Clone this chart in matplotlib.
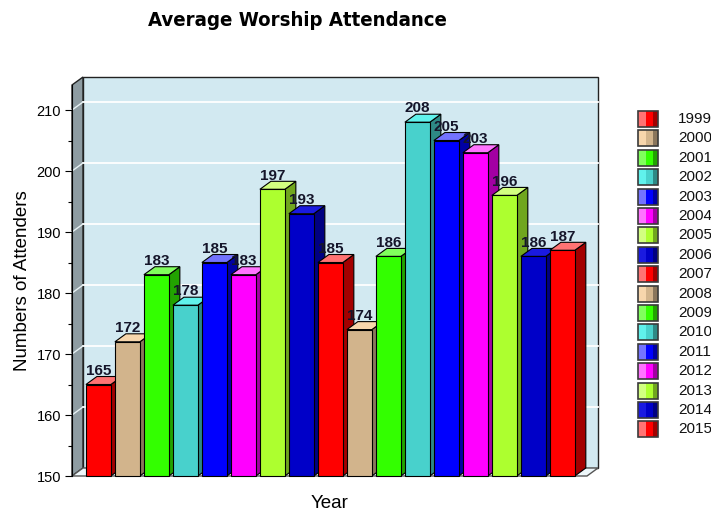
#!/usr/bin/env python3
"""Average worship attendance per year, drawn as a pseudo-3D bar chart."""
import matplotlib
matplotlib.use("Agg")
import matplotlib.pyplot as plt
from matplotlib.patches import Polygon, Rectangle

years = [str(y) for y in range(1999, 2016)]
attendance = [165, 172, 183, 178, 185, 183, 197, 193, 185, 174,
              186, 208, 205, 203, 196, 186, 187]

# (front, top, side) shades, cycling every 8 bars
PALETTE = [
    ("#FF0000", "#FF7373", "#A30000"),
    ("#D2B48C", "#F7D6AC", "#8A765C"),
    ("#33FF00", "#80FF5C", "#22A300"),
    ("#48D1CC", "#60F2EC", "#2E8985"),
    ("#0000FF", "#7373FF", "#0000A3"),
    ("#FF00FF", "#FF73FF", "#A300A3"),
    ("#ADFF2F", "#D2FF80", "#70A61E"),
    ("#0000C8", "#1A1AE0", "#000082"),
]

YMIN, YMAX = 150, 214.1
XMAX = 17.76
DX, DY = 0.379, 1.31      # depth offset in data units
BAR_W, BAR_OFF = 0.86, 0.48

FONT = ["Liberation Sans", "DejaVu Sans"]
plt.rcParams["font.family"] = FONT

fig = plt.figure(figsize=(7.11, 5.14), dpi=100)
ax = fig.add_axes([72 / 711, 38 / 514, 515 / 711, 391 / 514])
ax.set_xlim(0, XMAX)
ax.set_ylim(YMIN, YMAX)
ax.patch.set_visible(False)
for s in ("top", "right", "bottom"):
    ax.spines[s].set_visible(False)
ax.spines["left"].set_color("black")
ax.spines["left"].set_zorder(10)


def poly(pts, fc, ec="black", lw=0.8, z=2):
    ax.add_patch(Polygon(pts, closed=True, facecolor=fc, edgecolor=ec,
                         linewidth=lw, zorder=z, clip_on=False))


# walls and floor
poly([(DX, YMIN + DY), (XMAX + DX, YMIN + DY), (XMAX + DX, YMAX + DY),
      (DX, YMAX + DY)], "#D2E9F1", ec="#222222", lw=1.0, z=0)
poly([(0, YMIN), (DX, YMIN + DY), (DX, YMAX + DY), (0, YMAX)],
     "#8E9CA2", ec="#222222", lw=1.0, z=0)
poly([(0, YMIN), (XMAX, YMIN), (XMAX + DX, YMIN + DY), (DX, YMIN + DY)],
     "#EEF7FA", ec="#555555", lw=1.0, z=0)

for g in range(160, 211, 10):
    ax.plot([DX, XMAX + DX], [g + DY, g + DY], color="white", lw=1.3,
            zorder=1, clip_on=False)
    ax.plot([0, DX], [g, g + DY], color="#E8F2F5", lw=1.0, zorder=1,
            clip_on=False)

# bars
for i, v in enumerate(attendance):
    front, top, side = PALETTE[i % len(PALETTE)]
    x0 = BAR_OFF + i
    x1 = x0 + BAR_W
    z = 3 + i * 0.01
    poly([(x1, YMIN), (x1 + DX, YMIN + DY), (x1 + DX, v + DY), (x1, v)],
         side, z=z)
    poly([(x0, v), (x1, v), (x1 + DX, v + DY), (x0 + DX, v + DY)], top, z=z)
    ax.add_patch(Rectangle((x0, YMIN), BAR_W, v - YMIN, facecolor=front,
                           edgecolor="black", linewidth=0.8, zorder=z,
                           clip_on=False))
    ax.text(x0 + BAR_W / 2, v + DY - 0.2, str(v), ha="center", va="bottom",
            fontsize=11, fontweight="bold", color="#15152a", zorder=20,
            clip_on=False)

ax.set_xticks([])
ax.set_yticks(range(150, 211, 10))
ax.set_yticks(range(155, 210, 10), minor=True)
ax.tick_params(axis="y", which="major", length=5, width=0.8, pad=3,
               labelsize=10.5, colors="black")
ax.tick_params(axis="y", which="minor", length=3, width=0.8)
ax.set_ylabel("Numbers of Attenders", fontsize=13.5, labelpad=4)
ax.set_xlabel("Year", fontsize=13.5, labelpad=14)

fig.text(297 / 711, 1 - 21 / 514, "Average Worship Attendance",
         ha="center", va="center", fontsize=14.6, fontweight="heavy",
         fontstretch="condensed",
         family=["DejaVu Sans", "Liberation Sans"])

# legend in pixel coordinates
lg = fig.add_axes([0, 0, 1, 1])
lg.set_xlim(0, 711)
lg.set_ylim(514, 0)
lg.axis("off")
for i, yr in enumerate(years):
    front, top, side = PALETTE[i % len(PALETTE)]
    yc = 119 + i * 19.4
    y0 = yc - 8
    lg.add_patch(Rectangle((638, y0), 8, 16, facecolor=top, lw=0))
    lg.add_patch(Rectangle((646, y0), 7, 16, facecolor=front, lw=0))
    lg.add_patch(Rectangle((653, y0), 5, 16, facecolor=side, lw=0))
    lg.add_patch(Rectangle((638, y0), 20, 16, facecolor="none",
                           edgecolor="#3a3a3a", lw=1.2))
    lg.text(678, yc, yr, ha="left", va="center", fontsize=11, color="#111111")

fig.savefig("out.png", dpi=100)
